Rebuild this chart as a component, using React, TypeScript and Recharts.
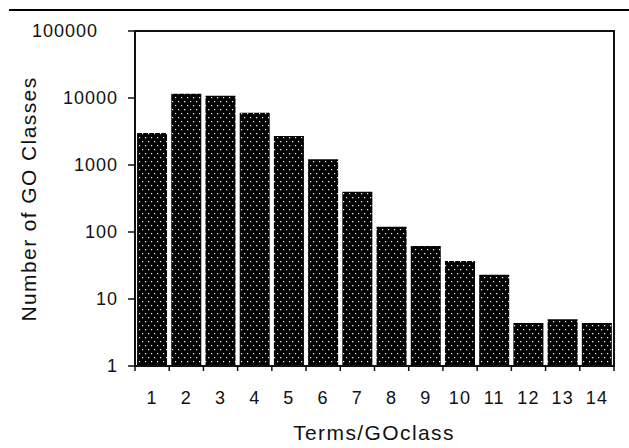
import * as Recharts from 'recharts'
import { BarChart, Bar, XAxis, YAxis, ReferenceLine } from 'recharts'

// GO class counts per number of terms (log scale)
const TERMS = ['1', '2', '3', '4', '5', '6', '7', '8', '9', '10', '11', '12', '13', '14']
const GO_CLASSES = [3000, 11600, 10800, 6000, 2700, 1220, 400, 120, 62, 37, 23, 4.4, 5, 4.4]
const Y_TICKS = [1, 10, 100, 1000, 10000, 100000]

const FONT = "'Liberation Sans', Arial, Helvetica, sans-serif"
const INK = '#111'

const data = TERMS.map((t, i) => ({ terms: t, count: GO_CLASSES[i] }))

const usePlotAreaHook: any = (Recharts as any).usePlotArea

// plot frame drawn as filled strips around the plot area
function Frame() {
  const area = usePlotAreaHook ? usePlotAreaHook() : undefined
  if (!area) return null
  const { x, y, width: w, height: h } = area
  return (
    <g fill={INK}>
      <rect x={x - 1} y={y - 1} width={w + 2} height={2} />
      <rect x={x - 1} y={y + h - 1} width={w + 2} height={2} />
      <rect x={x - 1} y={y - 1} width={2} height={h + 2} />
      <rect x={x + w - 1} y={y - 1} width={2} height={h + 2} />
    </g>
  )
}

function TermTick({ x, y, payload, index }: any) {
  const half = typeof payload?.offset === 'number' && payload.offset > 0 ? payload.offset : 479 / 28
  const top = y - 5
  return (
    <g>
      {index === 0 && <rect x={x - half - 0.75} y={top} width={1.5} height={5} fill={INK} />}
      <rect x={x + half - 0.75} y={top} width={1.5} height={5} fill={INK} />
      <text x={x} y={y + 33} textAnchor="middle" fontSize={18} letterSpacing={1.2} fill={INK} fontFamily={FONT}>
        {payload.value}
      </text>
    </g>
  )
}

function CountTick({ x, y, payload }: any) {
  // the top label sits further left in the original
  const shift = payload.value === 100000 ? -20 : 0
  return (
    <g>
      <rect x={x + 10} y={y - 0.75} width={7} height={1.5} fill={INK} />
      <text x={x + shift} y={y} dy="0.36em" textAnchor="end" fontSize={18} letterSpacing={1} fill={INK} fontFamily={FONT}>
        {payload.value}
      </text>
    </g>
  )
}

export default function App() {
  return (
    <div style={{ position: 'absolute', left: 0, top: 0, width: 629, height: 448, background: '#fff' }}>
      <BarChart width={629} height={448} data={data} barCategoryGap="6%"
        margin={{ top: 31, right: 15, bottom: 0, left: 0 }}>
        <defs>
          <pattern id="dotfill" width={6} height={8} patternUnits="userSpaceOnUse">
            <rect width={6} height={8} fill="#000" />
            <rect x={1} y={1} width={1.2} height={1.2} fill="#fff" />
            <rect x={4} y={5} width={1.2} height={1.2} fill="#fff" />
          </pattern>
        </defs>
        <XAxis dataKey="terms" height={82} interval={0} tickLine={false} tickSize={5} tickMargin={0}
          tick={<TermTick />} axisLine={{ stroke: INK, strokeWidth: 2 }} />
        <YAxis scale="log" type="number" domain={[1, 100000]} ticks={Y_TICKS} width={135}
          tickSize={7} tickMargin={10} tick={<CountTick />} interval={0} tickLine={false}
          axisLine={{ stroke: INK, strokeWidth: 2 }} />
        <Bar dataKey="count" fill="url(#dotfill)" isAnimationActive={false} />
        <ReferenceLine y={100000} stroke={INK} strokeWidth={2} />
        <ReferenceLine x="14" position="end" stroke={INK} strokeWidth={2} />
        <Frame />
        <text x={28} y={199} transform="rotate(-90 28 199)" textAnchor="middle" dy="0.36em"
          fontSize={21} letterSpacing={1.4} fill={INK} fontFamily={FONT}>
          Number of GO Classes
        </text>
        <text x={374} y={440} textAnchor="middle" fontSize={21} letterSpacing={1.4} fill={INK} fontFamily={FONT}>
          Terms/GOclass
        </text>
      </BarChart>
      <div style={{ position: 'absolute', left: 9, top: 9, width: 620, height: 2, background: '#000' }} />
    </div>
  )
}
